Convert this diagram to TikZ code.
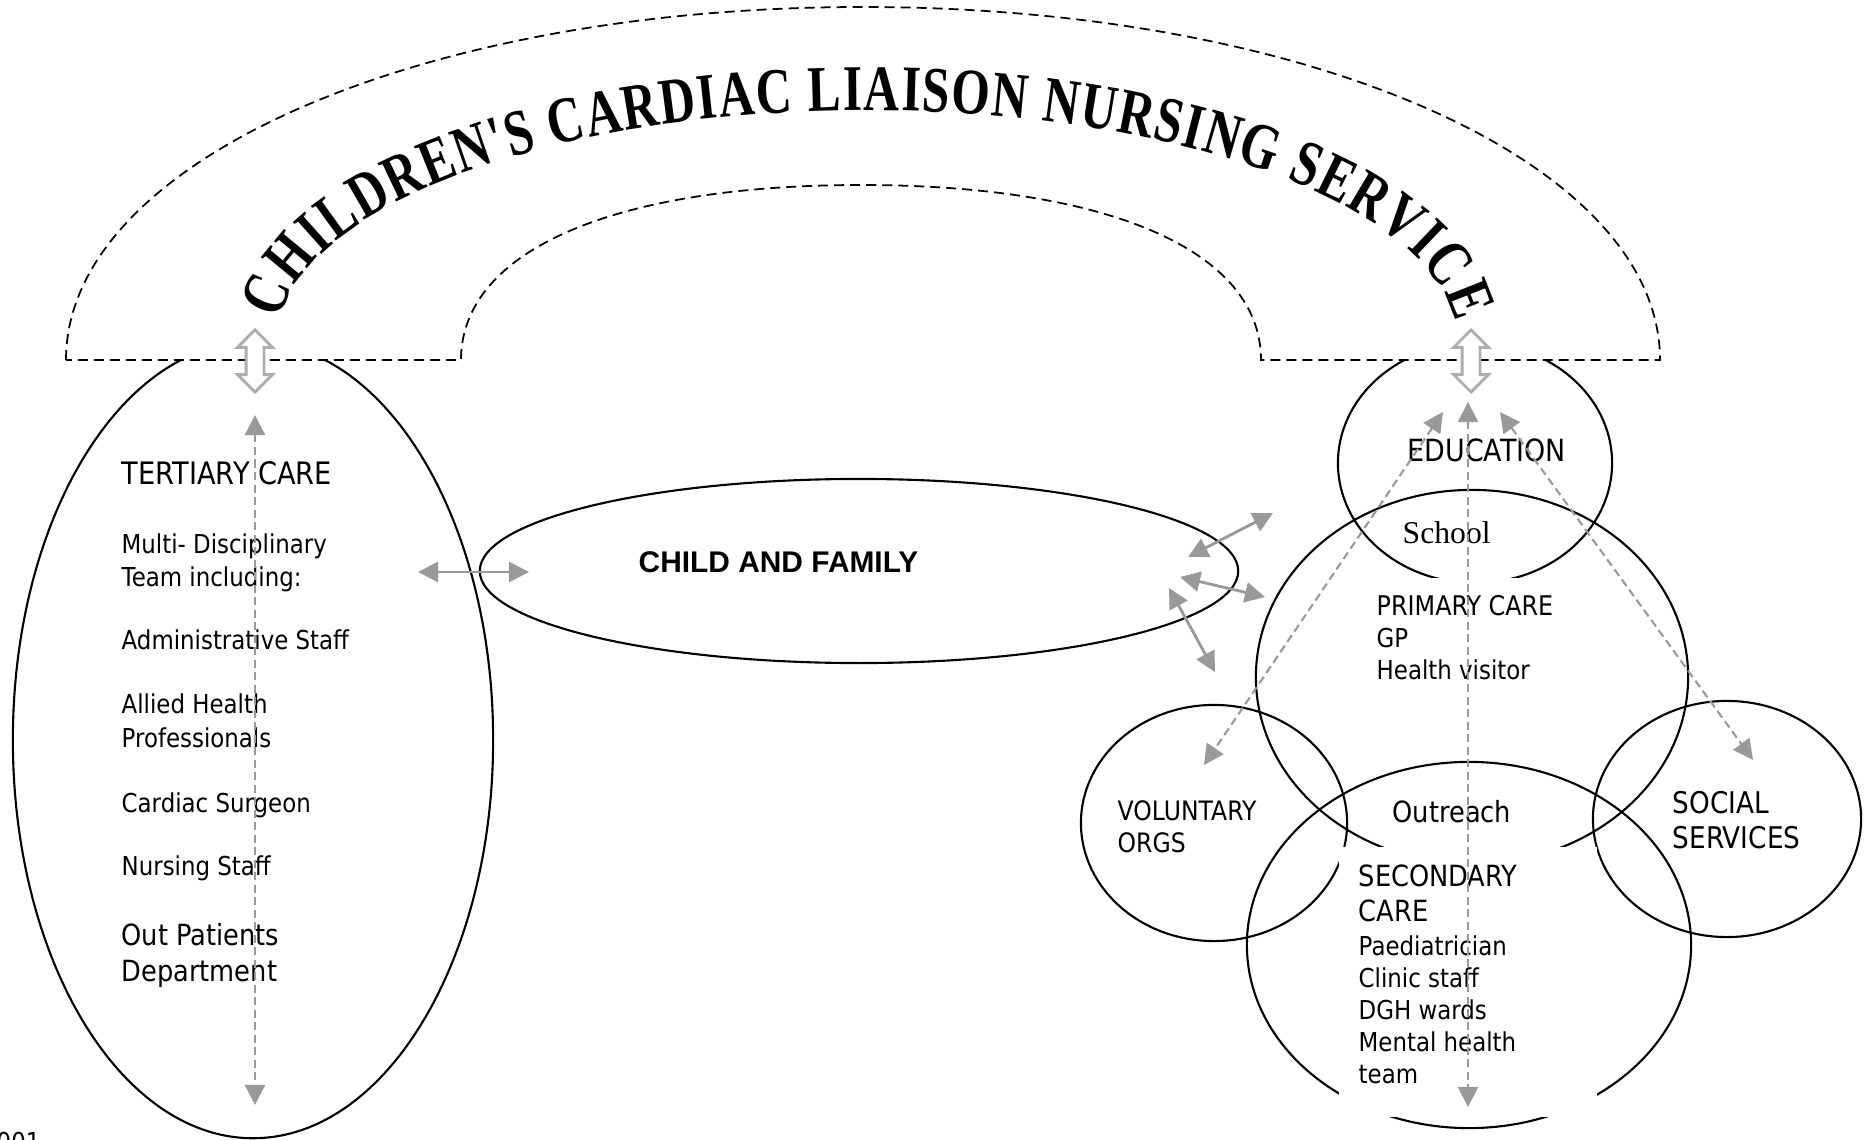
\documentclass[tikz,border=0pt]{standalone}
\usepackage{fontspec}
\usetikzlibrary{shapes.geometric,shapes.arrows,arrows.meta,decorations.text}
\newfontfamily\labelfont[FakeStretch=0.88]{DejaVu Sans}
\newfontfamily\familyfont{Liberation Sans}
\newfontfamily\titlefont{Liberation Serif}
\newfontfamily\archfont[FakeStretch=0.76]{Liberation Serif}
\definecolor{linkgrey}{rgb}{0.60, 0.60, 0.60}
\definecolor{hollowgrey}{rgb}{0.68, 0.68, 0.68}

\begin{document}
\begin{tikzpicture}[x=0.01cm, y=-0.01cm,
	careoval/.style={ellipse, draw, line width=0.6pt, inner sep=0pt},
	caretext/.style={anchor=base west, inner sep=0pt, font=\labelfont\fontsize{7.4pt}{9pt}\selectfont},
	bigtext/.style={caretext, font=\labelfont\fontsize{8.3pt}{10pt}\selectfont},
	linkarrow/.style={draw=linkgrey, line width=0.8pt, {Triangle[length=0.2cm,width=0.2cm]}-{Triangle[length=0.2cm,width=0.2cm]}},
	reacharrow/.style={linkarrow, line width=0.6pt, dash pattern=on 0.08cm off 0.045cm},
	liaisonarrow/.style={double arrow, draw=hollowgrey, fill=white, line width=0.8pt, rotate=90, inner xsep=0pt, inner ysep=0.075cm, minimum height=0.62cm, double arrow head extend=0.085cm}]
				\useasboundingbox (0,0) rectangle (1867,1140);
				% care settings
				\node[careoval, minimum width=4.80cm, minimum height=7.96cm] (tertiary) at (253,740) {};
				\node[careoval, minimum width=7.58cm, minimum height=1.84cm] (family) at (859,571) {};
				\node[careoval, minimum width=2.74cm, minimum height=2.40cm] (education) at (1475,463) {};
				\node[careoval, minimum width=4.32cm, minimum height=3.74cm] (primary) at (1472,677) {};
				\node[careoval, minimum width=2.66cm, minimum height=2.36cm] (voluntary) at (1214,823) {};
				\node[careoval, minimum width=2.68cm, minimum height=2.36cm] (social) at (1727,819) {};
				\node[careoval, minimum width=4.44cm, minimum height=3.66cm] (secondary) at (1469,945) {};
				\fill[white] (1365,578) rectangle (1565,690);
				\fill[white] (1339,847) rectangle (1597,1117);
				% service arch
				\draw[line width=0.5pt, dash pattern=on 0.1cm off 0.06cm, fill=white]
					(66,360) .. controls (66,162) and (417,7) .. (863,7)
					.. controls (1309,7) and (1660,162) .. (1660,360) -- (1261,360)
					.. controls (1261,251) and (1109,185) .. (861,185)
					.. controls (613,185) and (461,251) .. (461,360) -- cycle;
				\path[decorate, decoration={text along path, text color=black, text align=fit to path,
					text={|\archfont\bfseries\fontsize{18.5pt}{20pt}\selectfont|CHILDREN'S CARDIAC LIAISON NURSING SERVICE}}]
					(280,320) arc[start angle=185.5, end angle=355, x radius=590, y radius=232];
				% tertiary care
				\node[bigtext, font=\labelfont\fontsize{8.8pt}{10pt}\selectfont] (tertiary head) at (121,484) {TERTIARY CARE};
				\node[caretext] (team one) at (121,553) {Multi- Disciplinary};
				\node[caretext] (team two) at (121,586) {Team including:};
				\node[caretext] (admin) at (121,649) {Administrative Staff};
				\node[caretext] (allied one) at (121,713) {Allied Health};
				\node[caretext] (allied two) at (121,747) {Professionals};
				\node[caretext] (surgeon) at (121,812) {Cardiac Surgeon};
				\node[caretext] (nursing) at (121,875) {Nursing Staff};
				\node[bigtext] (outpatients one) at (121,945) {Out Patients};
				\node[bigtext] (outpatients two) at (121,981) {Department};
				\node[caretext] (year) at (-4,1151) {001};
				% child and family
				\node[anchor=base west, inner sep=0pt, font=\familyfont\bfseries\fontsize{8.5pt}{10pt}\selectfont] (family head) at (638,572) {CHILD AND FAMILY};
				% community settings
				\node[bigtext, font=\labelfont\fontsize{8.7pt}{10pt}\selectfont] (education head) at (1407,462) {EDUCATION};
				\node[anchor=base west, inner sep=0pt, font=\titlefont\fontsize{9pt}{10pt}\selectfont] (school) at (1402,543) {School};
				\node[caretext, font=\labelfont\fontsize{7.7pt}{9pt}\selectfont] (primary head) at (1376,615) {PRIMARY CARE};
				\node[caretext] (gp) at (1376,647) {GP};
				\node[caretext] (visitor) at (1376,679) {Health visitor};
				\node[bigtext] (outreach) at (1392,822) {Outreach};
				\node[caretext, font=\labelfont\fontsize{7.6pt}{9pt}\selectfont] (voluntary one) at (1117,820) {VOLUNTARY};
				\node[caretext, font=\labelfont\fontsize{7.6pt}{9pt}\selectfont] (voluntary two) at (1117,852) {ORGS};
				\node[bigtext, font=\labelfont\fontsize{8.5pt}{10pt}\selectfont] (social one) at (1672,813) {SOCIAL};
				\node[bigtext, font=\labelfont\fontsize{8.5pt}{10pt}\selectfont] (social two) at (1672,848) {SERVICES};
				\node[bigtext] (secondary one) at (1358,886) {SECONDARY};
				\node[bigtext] (secondary two) at (1358,921) {CARE};
				\node[caretext] (paed) at (1358,955) {Paediatrician};
				\node[caretext] (clinic) at (1358,987) {Clinic staff};
				\node[caretext] (wards) at (1358,1019) {DGH wards};
				\node[caretext] (mental one) at (1358,1051) {Mental health};
				\node[caretext] (mental two) at (1358,1083) {team};
				% links
				\node[liaisonarrow] (left liaison) at (255,361) {};
				\node[liaisonarrow] (right liaison) at (1471,361) {};
				\coordinate (tertiary top) at (255,415);
				\coordinate (tertiary bottom) at (255,1105);
				\coordinate (tertiary reach) at (418,572);
				\coordinate (family reach) at (529,572);
				\coordinate (family out1) at (1188,557);
				\coordinate (school in) at (1273,513);
				\coordinate (family out2) at (1180,577);
				\coordinate (primary in) at (1265,597);
				\coordinate (family out3) at (1169,588);
				\coordinate (voluntary in) at (1215,672);
				\coordinate (hub) at (1468,402);
				\coordinate (outreach base) at (1468,1107);
				\coordinate (hub left) at (1443,412);
				\coordinate (voluntary reach) at (1204,765);
				\coordinate (hub right) at (1500,412);
				\coordinate (social reach) at (1753,760);
				\draw[reacharrow] (tertiary top) -- (tertiary bottom);
				\draw[linkarrow] (tertiary reach) -- (family reach);
				\draw[linkarrow] (family out1) -- (school in);
				\draw[linkarrow] (family out2) -- (primary in);
				\draw[linkarrow] (family out3) -- (voluntary in);
				\draw[reacharrow] (hub) -- (outreach base);
				\draw[reacharrow] (hub left) -- (voluntary reach);
				\draw[reacharrow] (hub right) -- (social reach);
			\end{tikzpicture}
\end{document}
